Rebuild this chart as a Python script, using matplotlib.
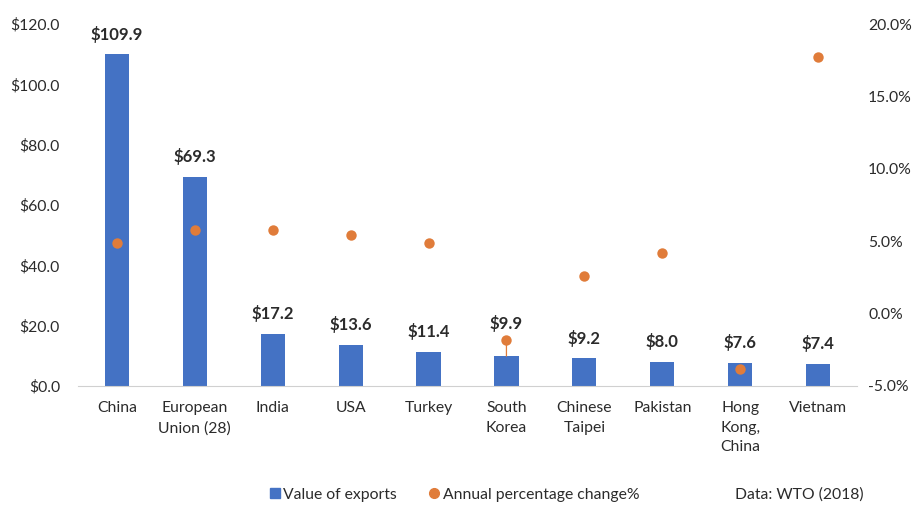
import matplotlib
matplotlib.use("Agg")
import matplotlib.pyplot as plt
from matplotlib.lines import Line2D
from matplotlib.patches import ConnectionPatch
from matplotlib.ticker import FuncFormatter

# Exports (US$ billion) and annual % change, 2017
categories = ["China", "European\nUnion (28)", "India", "USA", "Turkey",
              "South\nKorea", "Chinese\nTaipei", "Pakistan", "Hong\nKong,\nChina", "Vietnam"]
export_values = [109.9, 69.3, 17.2, 13.6, 11.4, 9.9, 9.2, 8.0, 7.6, 7.4]
annual_change = [4.9, 5.8, 5.8, 5.4, 4.9, -1.8, 2.6, 4.2, -3.8, 17.7]
left_ticks = [0, 20, 40, 60, 80, 100, 120]
right_ticks = [-5, 0, 5, 10, 15, 20]

BLUE = "#4472C4"
ORANGE = "#E07C3A"
TEXT = "#2B2B2B"
FONT = "Lato"

plt.rcParams["font.family"] = [FONT, "DejaVu Sans"]

fig = plt.figure(figsize=(9.17, 5.09), dpi=100)
ax = fig.add_axes([0.085, 0.2417, 0.8496, 0.7111])
ax2 = ax.twinx()

x = list(range(len(categories)))
bars = ax.bar(x, export_values, width=0.31, color=BLUE, zorder=2)

ax.set_xlim(-0.5, len(categories) - 0.5)
ax.set_ylim(0, 120)
ax.set_yticks(left_ticks)
ax.yaxis.set_major_formatter(FuncFormatter(lambda v, p: f"${v:.1f}"))
ax.set_xticks(x)
ax.set_xticklabels(categories, linespacing=1.5, va="top")

ax2.set_ylim(-5, 20)
ax2.set_yticks(right_ticks)
ax2.yaxis.set_major_formatter(FuncFormatter(lambda v, p: f"{v:.1f}%"))

for a in (ax, ax2):
    for s in a.spines.values():
        s.set_visible(False)
    a.tick_params(length=0, labelsize=11.3, colors=TEXT)
ax.spines["bottom"].set_visible(True)
ax.spines["bottom"].set_color("#D0D0D0")
ax.tick_params(axis="y", pad=13)
ax.tick_params(axis="x", pad=11)
ax2.tick_params(axis="y", pad=8)

# value labels above the bars
label_lift = {"South\nKorea": 23.5}
for xi, cat, v in zip(x, categories, export_values):
    ax.annotate(f"${v:.1f}", (xi, v), xytext=(0, label_lift.get(cat, 14.5)),
                textcoords="offset points", ha="center", va="center",
                fontsize=12, fontweight="bold", color=TEXT, zorder=4)

# annual change points on the secondary axis
ax2.plot(x, annual_change, linestyle="none", marker="o", markersize=7.5,
         color=ORANGE, markeredgewidth=0, zorder=3)

# leader line from the South Korea point down to its bar
sk = categories.index("South\nKorea")
con = ConnectionPatch(xyA=(sk, annual_change[sk]), coordsA=ax2.transData,
                      xyB=(sk, export_values[sk]), coordsB=ax.transData,
                      color=ORANGE, linewidth=0.9, zorder=3)
fig.add_artist(con)

handles = [
    Line2D([], [], linestyle="none", marker="s", markersize=7, color=BLUE),
    Line2D([], [], linestyle="none", marker="o", markersize=7, color=ORANGE),
]
fig.legend(handles, ["Value of exports", "Annual percentage change%"],
           loc="center", bbox_to_anchor=(0.492, 0.028), ncol=2, frameon=False,
           fontsize=11.3, handletextpad=-0.2, columnspacing=1.6,
           handlelength=1.5, labelcolor=TEXT)
fig.text(0.801, 0.028, "Data: WTO (2018)", ha="left", va="center",
         fontsize=11.3, color=TEXT)

fig.savefig("out.png", dpi=100, facecolor="white")
